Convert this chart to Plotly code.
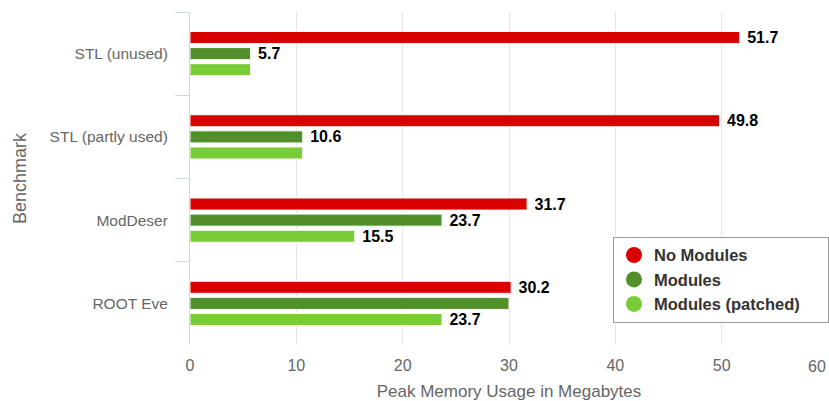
import plotly.graph_objects as go

benchmarks = ["STL (unused)", "STL (partly used)", "ModDeser", "ROOT Eve"]
no_modules = [51.7, 49.8, 31.7, 30.2]
modules = [5.7, 10.6, 23.7, 30.0]
modules_patched = [5.7, 10.6, 15.5, 23.7]

# labels drawn next to the bars (blank where they would collide)
no_modules_labels = ["51.7", "49.8", "31.7", "30.2"]
modules_labels = ["5.7", "10.6", "23.7", ""]
patched_labels = ["", "", "15.5", "23.7"]

x_ticks = [0, 10, 20, 30, 40, 50, 60]

series = [
    ("No Modules", no_modules, no_modules_labels, "#d90000"),
    ("Modules", modules, modules_labels, "#508f2a"),
    ("Modules (patched)", modules_patched, patched_labels, "#78cc36"),
]

FONT = "Liberation Sans, Arial, Helvetica, sans-serif"

fig = go.Figure()
for name, vals, labels, color in series:
    fig.add_trace(go.Bar(
        y=benchmarks, x=vals, orientation="h", name=name,
        marker=dict(color=color, line=dict(color="white", width=1)),
        text=labels, texttemplate=" %{text}", textposition="outside",
        cliponaxis=False, constraintext="none",
        textfont=dict(family=FONT, size=16, color="#000000", weight="bold"),
        showlegend=False,
    ))
# round legend markers; trailing non-breaking spaces widen the legend box
for name, vals, labels, color in series:
    fig.add_trace(go.Scatter(
        x=[None], y=[None], mode="markers", name=name + "\u00a0" * 5,
        marker=dict(color=color, size=17, symbol="circle"),
    ))

# last tick label is kept inside the figure, right-aligned to its gridline
tick_text = [str(v) for v in x_ticks[:-1]] + [""]
fig.add_annotation(
    x=x_ticks[-1], y=0, xref="x", yref="paper",
    xanchor="right", yanchor="top", yshift=-11, showarrow=False,
    text=str(x_ticks[-1]), font=dict(family=FONT, size=16, color="#666666"),
)

fig.update_layout(
    width=829, height=401,
    margin=dict(l=190, r=1, t=12, b=56, autoexpand=False),
    paper_bgcolor="white", plot_bgcolor="white",
    barmode="group", bargap=0.42, bargroupgap=0.25,
    font=dict(family=FONT, color="#666666", size=15),
    legend=dict(
        x=0.663, y=0.325, xanchor="left", yanchor="top",
        bgcolor="white", bordercolor="#999999", borderwidth=1,
        font=dict(family=FONT, size=16.5, color="#333333", weight="bold"),
        itemsizing="trace", tracegroupgap=0,
    ),
    xaxis=dict(
        range=[0, 60], tickvals=x_ticks, ticktext=tick_text,
        showgrid=True, gridcolor="#e6e6e6", gridwidth=1,
        zeroline=False, showline=False,
        tickfont=dict(size=16, color="#666666"), ticklabelstandoff=9,
        title=dict(text="Peak Memory Usage in Megabytes",
                   font=dict(size=17, color="#666666"), standoff=18),
    ),
    yaxis=dict(
        autorange="reversed", type="category",
        showline=True, linecolor="#ccd6eb", linewidth=1,
        ticks="outside", ticklen=14, tickcolor="#ccd6eb", tickson="boundaries",
        showgrid=False, zeroline=False,
        tickfont=dict(size=15.5, color="#666666"), ticklabelstandoff=18,
        title=dict(text="Benchmark", font=dict(size=18, color="#666666"), standoff=18),
    ),
)

fig.write_html("out.html")
